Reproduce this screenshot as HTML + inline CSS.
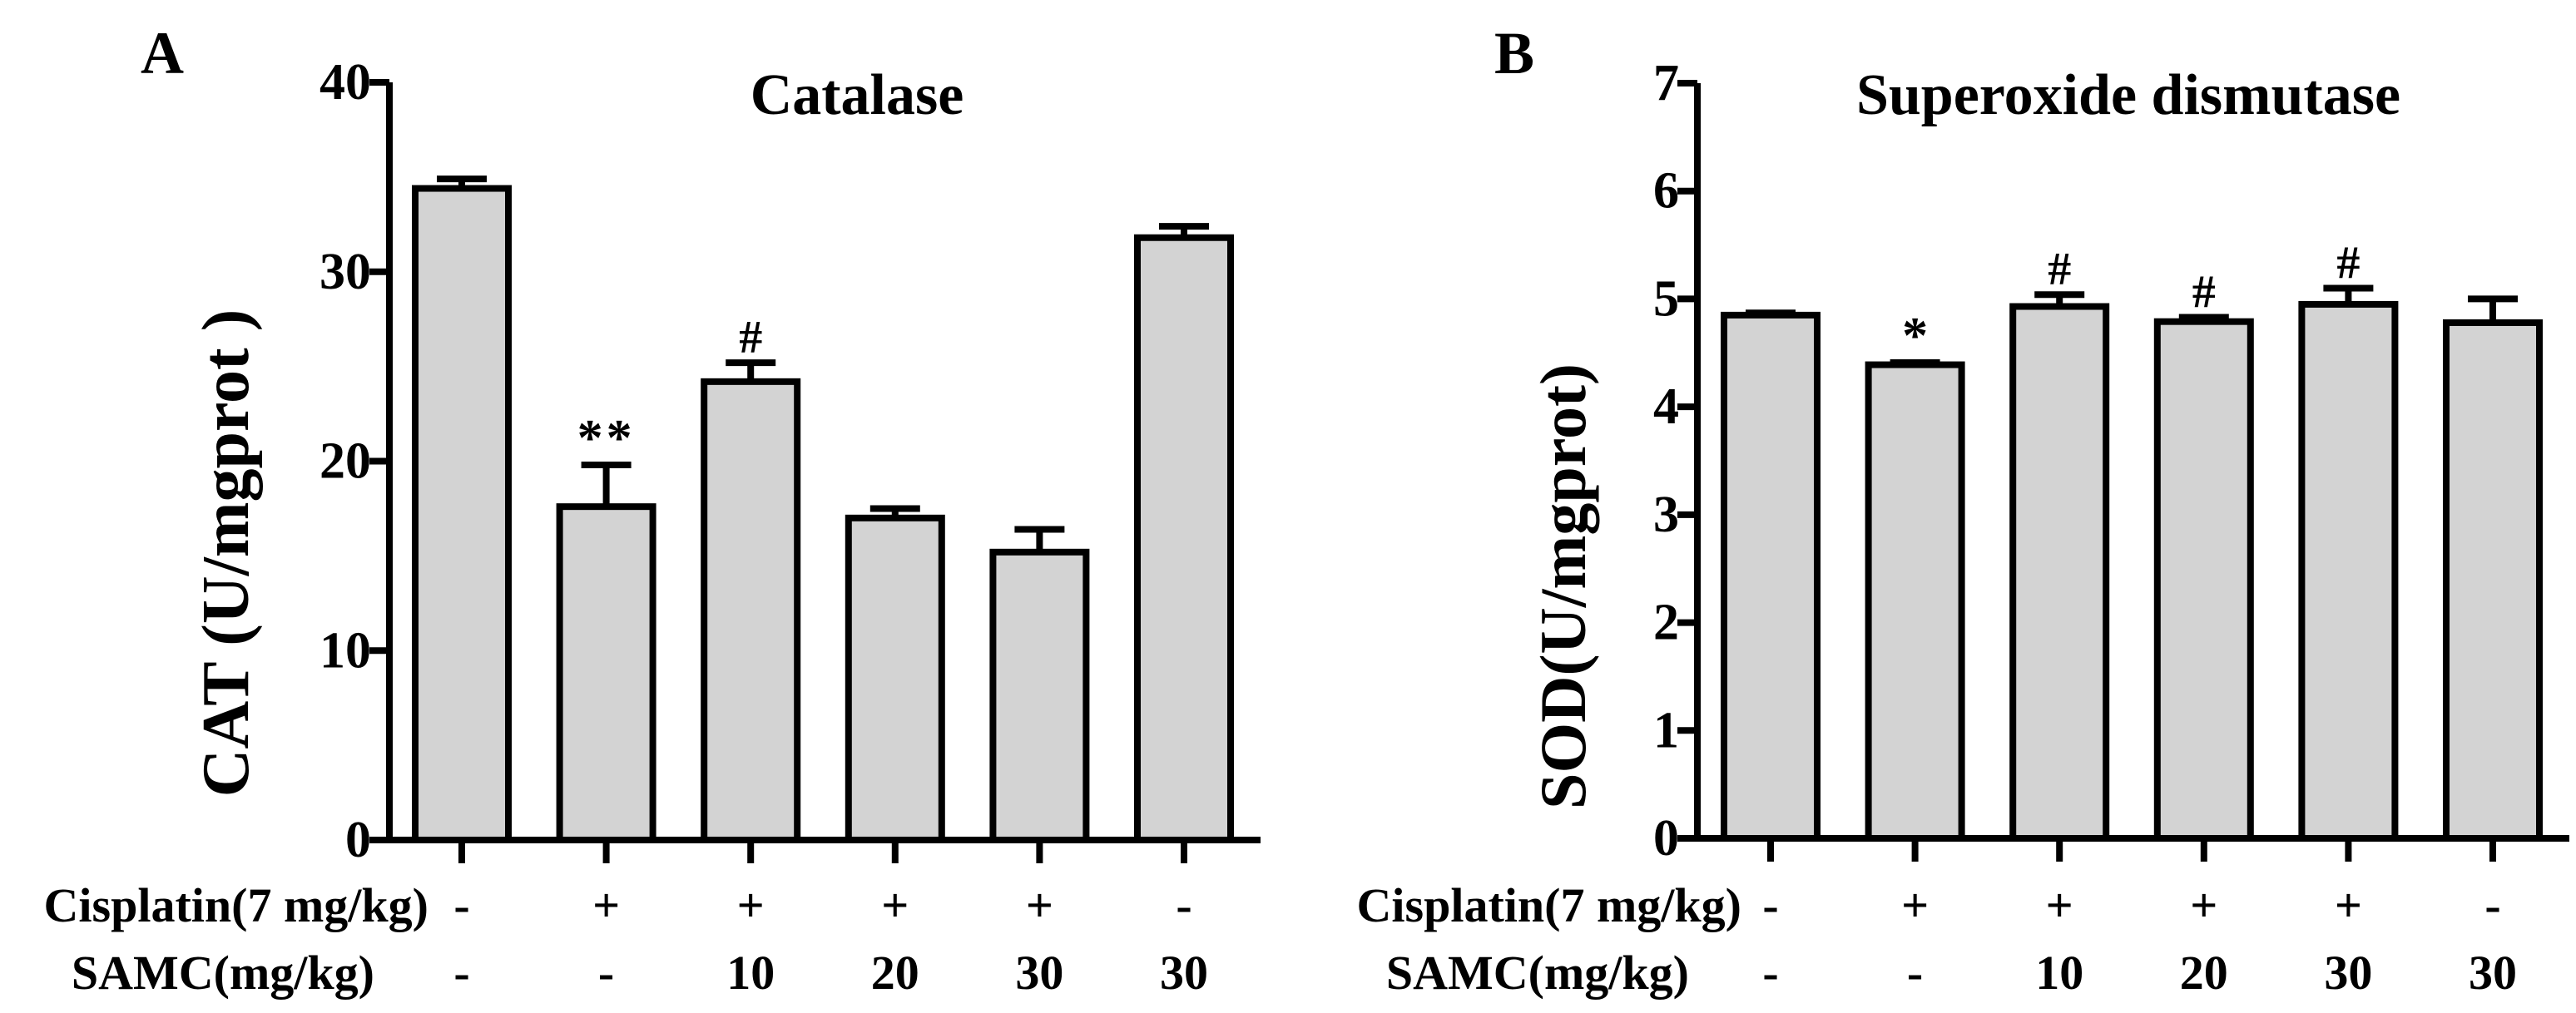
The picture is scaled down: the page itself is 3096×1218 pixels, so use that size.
<!DOCTYPE html>
<html><head><meta charset="utf-8"><style>
html,body{margin:0;padding:0;background:#fff;width:3096px;height:1218px;overflow:hidden}
svg text{font-family:"Liberation Serif",serif;font-weight:bold;fill:#000}
</style></head><body>
<svg id="fig" width="3096" height="1218" viewBox="0 0 3096 1218" xmlns="http://www.w3.org/2000/svg"></svg>
<script>
const groups = ["g1","g2","g3","g4","g5","g6"];
const cisplatinRow = ["-","+","+","+","+","-"];
const samcRow = ["-","-","10","20","30","30"];
const catValues = [34.4,17.6,24.2,17.0,15.2,31.8];
const catErrors = [0.5,2.2,1.0,0.5,1.2,0.6];
const catMarks = ["","**","#","","",""];
const catTicks = [0,10,20,30,40];
const sodValues = [4.85,4.39,4.93,4.79,4.95,4.78];
const sodErrors = [0.02,0.02,0.11,0.04,0.15,0.22];
const sodMarks = ["","*","#","#","#",""];
const sodTicks = [0,1,2,3,4,5,6,7];

const svg=document.getElementById('fig');
const NS='http://www.w3.org/2000/svg';
function mk(tag,attrs,parent){const e=document.createElementNS(NS,tag);for(const k in attrs)e.setAttribute(k,attrs[k]);(parent||svg).appendChild(e);return e;}
function txt(s,attrs,parent){const e=mk('text',attrs,parent);e.textContent=s;return e;}

function panel(cfg){
  const g=mk('g',{});
  
  
  const y=v=>cfg.y0-(v-cfg.min)/(cfg.max-cfg.min)*(cfg.y0-cfg.yTop);
  const xc=i=>cfg.x0c+i*cfg.step;
  cfg.values.forEach((v,i)=>{
    const e=mk('line',{x1:xc(i),x2:xc(i),y1:y(v),y2:y(v+cfg.errors[i]),stroke:'#000','stroke-width':8},g);
    
    
    const c=mk('line',{x1:xc(i)-30,x2:xc(i)+30,y1:y(v+cfg.errors[i]),y2:y(v+cfg.errors[i]),stroke:'#000','stroke-width':8},g);
    
    
    const r=mk('rect',{x:xc(i)-56,y:y(v),width:112,height:cfg.y0-y(v),fill:'#d3d3d3',stroke:'#000','stroke-width':8},g);
    
    
    if(cfg.marks[i]){
      const t=txt(cfg.marks[i],{x:xc(i),y:y(v+cfg.errors[i])-12,'text-anchor':'middle','font-size':cfg.marks[i]==='#'?56:62,'letter-spacing':cfg.marks[i]==='**'?4:0},g);
      
      
    }
    const tk=mk('line',{x1:xc(i),x2:xc(i),y1:cfg.y0,y2:cfg.y0+28,stroke:'#000','stroke-width':8},g);
    
    
    const a=txt(cisplatinRow[i],{x:xc(i),y:1108,'text-anchor':'middle','font-size':58},g);
    
    
    const b=txt(samcRow[i],{x:xc(i),y:1189,'text-anchor':'middle','font-size':58},g);
    
    
  });
  const ya=mk('line',{x1:cfg.xAxis,x2:cfg.xAxis,y1:cfg.yTop,y2:cfg.y0+4,stroke:'#000','stroke-width':8},g);
  
  
  const xa=mk('line',{x1:cfg.xAxis-24,x2:cfg.xEnd,y1:cfg.y0,y2:cfg.y0,stroke:'#000','stroke-width':8},g);
  
  
  cfg.ticks.forEach(t=>{
    const l=mk('line',{x1:cfg.xAxis-24,x2:cfg.xAxis,y1:y(t),y2:y(t),stroke:'#000','stroke-width':8},g);
    
    
    const tl=txt(String(t),{x:cfg.xAxis-22,y:y(t)+20,'text-anchor':'end','font-size':62},g);
    
    
  });
  const ti=txt(cfg.title,{x:cfg.titleX,y:137,'text-anchor':'middle','font-size':70},g);
  
  
  const yl=txt(cfg.ylabel,{x:0,y:0,'text-anchor':'middle','font-size':cfg.ylSize,transform:`translate(${cfg.ylX},${cfg.ylY}) rotate(-90)`},g);
  
  
  const pl=txt(cfg.letter,{x:cfg.letterX,y:88,'text-anchor':'middle','font-size':72},g);
  
  
  const r1=txt('Cisplatin(7 mg/kg)',{x:cfg.rowX1,y:1108,'text-anchor':'end','font-size':58},g);
  
  
  const r2=txt('SAMC(mg/kg)',{x:cfg.rowX2,y:1189,'text-anchor':'end','font-size':58},g);
  
  
}
panel({name:'panel-a-catalase',values:catValues,errors:catErrors,marks:catMarks,ticks:catTicks,min:0,max:40,
  y0:1010,yTop:99,xAxis:468,xEnd:1515,x0c:555,step:173.6,title:'Catalase',titleX:1030,
  ylabel:'CAT (U/mgprot )',ylSize:80,ylX:298,ylY:665,letter:'A',letterX:195,rowX1:515,rowX2:450});
panel({name:'panel-b-sod',values:sodValues,errors:sodErrors,marks:sodMarks,ticks:sodTicks,min:0,max:7,
  y0:1008,yTop:100,xAxis:2040,xEnd:3088,x0c:2128,step:173.6,title:'Superoxide dismutase',titleX:2558,
  ylabel:'SOD(U/mgprot)',ylSize:78,ylX:1905,ylY:705,letter:'B',letterX:1820,rowX1:2093,rowX2:2030});
</script>
</body></html>
